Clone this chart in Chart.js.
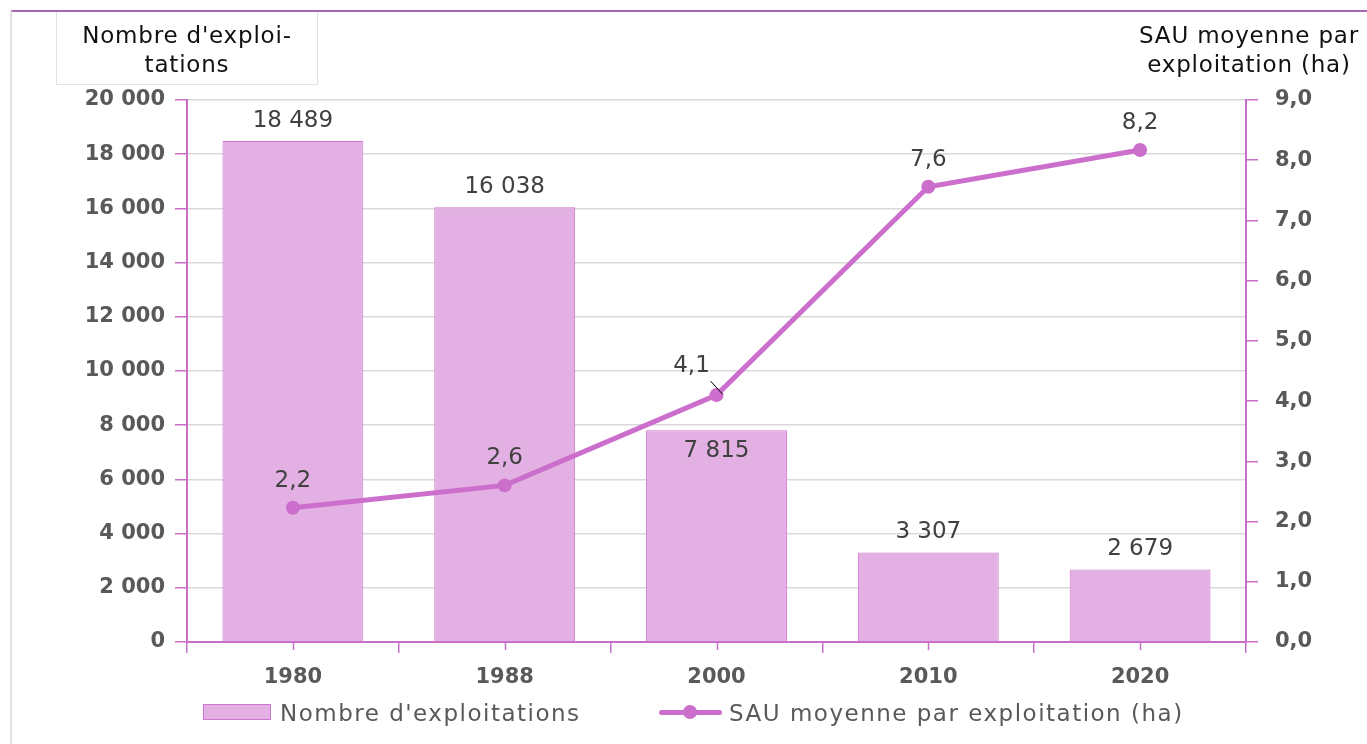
<!DOCTYPE html>
<html lang="fr">
<head>
<meta charset="utf-8">
<script src="https://cdn.jsdelivr.net/npm/chart.js@4/dist/chart.umd.min.js"></script>
<style>
  html, body { margin: 0; padding: 0; background: #fff; }
  #wrap { position: relative; width: 1367px; height: 744px; overflow: hidden; font-family: "DejaVu Sans", sans-serif; }
  #chartBox { position: absolute; left: 0; top: 0; width: 1367px; height: 744px; }
  .topline { position: absolute; left: 11px; top: 10px; width: 1356px; height: 2px; background: #a866b6; }
  .leftline { position: absolute; left: 10px; top: 11px; width: 2px; height: 733px; background: #e0e0e0; }
  .ltitle { position: absolute; left: 56px; top: 12px; width: 262px; height: 73px; border: 1px solid #e2e2e2; border-top: none;
            text-align: center; font-size: 23px; line-height: 29px; color: #111; padding-top: 9px; box-sizing: border-box; letter-spacing: 0.8px; }
  .rtitle { position: absolute; left: 1120px; width: 258px; top: 21px; text-align: center; font-size: 23px; line-height: 29px; color: #111; letter-spacing: 0.8px; }
  .leg { position: absolute; top: 700px; height: 26px; font-size: 23px; line-height: 26px; color: #595959; letter-spacing: 1.5px; white-space: nowrap; }
  .legbox { position: absolute; left: 203px; top: 704px; width: 66px; height: 14px; background: #e2b0e2; border: 1px solid #cf74cf; }
  .legline { position: absolute; left: 659px; top: 710px; width: 63px; height: 5px; background: #cc6ecc; border-radius: 3px; }
  .legdot { position: absolute; left: 683px; top: 705px; width: 14px; height: 14px; background: #cc6ecc; border-radius: 50%; }
</style>
</head>
<body>
<div id="wrap">
  <div id="chartBox"><canvas id="c" width="1367" height="744"></canvas></div>
  <div class="topline"></div>
  <div class="leftline"></div>
  <div class="ltitle">Nombre d'exploi-<br>tations</div>
  <div class="rtitle">SAU moyenne par<br>exploitation (ha)</div>
  <div class="legbox"></div>
  <div class="leg" style="left:280px;">Nombre d'exploitations</div>
  <div class="legline"></div>
  <div class="legdot"></div>
  <div class="leg" style="left:729px;">SAU moyenne par exploitation (ha)</div>
</div>
<script>
// ---- Data ----
const categories = ['1980', '1988', '2000', '2010', '2020'];
const nombreExploitations = [18489, 16038, 7815, 3307, 2679];
const sauMoyenne = [2.23, 2.6, 4.1, 7.56, 8.17];
const leftTicks = [0, 2000, 4000, 6000, 8000, 10000, 12000, 14000, 16000, 18000, 20000];
const rightTicks = [0, 1, 2, 3, 4, 5, 6, 7, 8, 9];

const AXIS = '#c86ec8';
const GRID = '#d9d9d9';
const TICKTXT = '#595959';
const FONT = 'DejaVu Sans';

function fmtThousands(v) {
  return String(Math.round(v)).replace(/\B(?=(\d{3})+(?!\d))/g, ' ');
}
function fmtDec(v) {
  return v.toFixed(1).replace('.', ',');
}

// small tick marks at category centres (x axis)
const centreTicks = {
  id: 'centreTicks',
  afterDraw(chart) {
    const x = chart.scales.x;
    const ctx = chart.ctx;
    ctx.save();
    ctx.strokeStyle = AXIS;
    ctx.lineWidth = 1.5;
    categories.forEach((c, i) => {
      const px = Math.round(x.getPixelForValue(i)) + 0.5;
      ctx.beginPath();
      ctx.moveTo(px, x.top);
      ctx.lineTo(px, x.top + 8);
      ctx.stroke();
    });
    ctx.restore();
  }
};

const labelPlugin = {
  id: 'valueLabels',
  afterDatasetsDraw(chart, args, opts) {
    const ctx = chart.ctx;
    ctx.save();
    ctx.font = '23px "' + FONT + '"';
    ctx.fillStyle = '#404040';
    ctx.textAlign = 'center';
    ctx.textBaseline = 'middle';
    const barMeta = chart.getDatasetMeta(0);
    const lineMeta = chart.getDatasetMeta(1);
    barMeta.data.forEach((el, i) => {
      const pt = lineMeta.data[i];
      let y = el.y - 20;
      if (pt && Math.abs(pt.y - y) < 45 && pt.y < el.y) y = el.y + 21;
      ctx.fillText(fmtThousands(chart.data.datasets[0].data[i]), el.x, y);
    });
    const special = opts.lineOffsets || {};
    lineMeta.data.forEach((el, i) => {
      const o = special[i];
      const v = fmtDec(chart.data.datasets[1].data[i]);
      if (o) {
        ctx.fillText(v, el.x + o.dx, el.y + o.dy);
        ctx.beginPath();
        ctx.strokeStyle = '#000';
        ctx.lineWidth = 1;
        ctx.moveTo(el.x - 6, el.y - 14);
        ctx.lineTo(el.x + 6, el.y - 1);
        ctx.stroke();
      } else {
        ctx.fillText(v, el.x, el.y - 27);
      }
    });
    ctx.restore();
  }
};

new Chart(document.getElementById('c'), {
  data: {
    labels: categories,
    datasets: [
      {
        type: 'bar',
        label: "Nombre d'exploitations",
        data: nombreExploitations,
        yAxisID: 'y',
        backgroundColor: '#e2b0e2',
        borderColor: '#cf74cf',
        borderWidth: 1,
        barPercentage: 0.665,
        categoryPercentage: 1,
        order: 1
      },
      {
        type: 'line',
        label: 'SAU moyenne par exploitation (ha)',
        data: sauMoyenne,
        yAxisID: 'y1',
        borderColor: '#cc6ecc',
        backgroundColor: '#cc6ecc',
        borderWidth: 5,
        pointRadius: 7,
        pointBorderWidth: 0,
        pointBackgroundColor: '#cc6ecc',
        tension: 0,
        order: 0
      }
    ]
  },
  options: {
    responsive: false,
    animation: false,
    layout: { padding: { top: 100, bottom: 0, left: 0, right: 0 } },
    plugins: {
      legend: { display: false },
      title: { display: false },
      tooltip: { enabled: false },
      valueLabels: { lineOffsets: { 2: { dx: -25, dy: -29 } } }
    },
    scales: {
      x: {
        offset: true,
        grid: { offset: true, drawOnChartArea: false, color: AXIS, tickColor: AXIS, tickLength: 11, lineWidth: 1.5 },
        border: { color: AXIS, width: 2 },
        ticks: { color: TICKTXT, font: { family: FONT, size: 21, weight: 'bold' }, padding: 12 },
        afterFit(s) { s.height = 102; }
      },
      y: {
        position: 'left',
        min: 0, max: 20000,
        afterBuildTicks(s) { s.ticks = leftTicks.map(v => ({ value: v })); },
        grid: { color: GRID, lineWidth: 1.5, tickColor: AXIS, tickLength: 12 },
        border: { color: AXIS, width: 2 },
        ticks: { color: TICKTXT, font: { family: FONT, size: 21, weight: 'bold' }, padding: 10, callback: v => fmtThousands(v) },
        afterFit(s) { s.width = 187; }
      },
      y1: {
        position: 'right',
        min: 0, max: 9,
        afterBuildTicks(s) { s.ticks = rightTicks.map(v => ({ value: v })); },
        grid: { drawOnChartArea: false, color: AXIS, tickColor: AXIS, tickLength: 12, lineWidth: 1.5 },
        border: { color: AXIS, width: 2 },
        ticks: { color: TICKTXT, font: { family: FONT, size: 21, weight: 'bold' }, padding: 17, callback: v => fmtDec(v) },
        afterFit(s) { s.width = 121; }
      }
    }
  },
  plugins: [labelPlugin, centreTicks]
});
</script>
</body>
</html>
